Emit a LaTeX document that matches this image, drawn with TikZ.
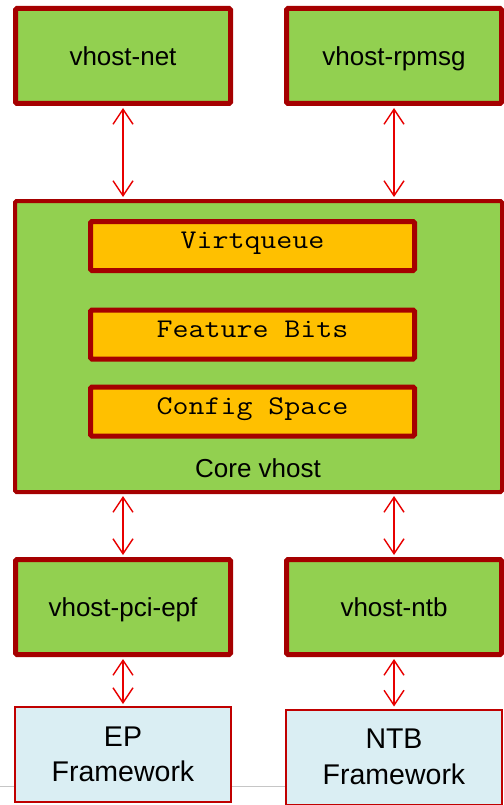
\documentclass[tikz,border=0pt]{standalone}
\usepackage{fontspec}
\setmainfont{Liberation Sans}
\newfontfamily\cmono{Latin Modern Mono}[FakeStretch=1.15]
\usetikzlibrary{arrows.meta}
\definecolor{boxgreen}{RGB}{146,208,80}
\definecolor{boxborder}{RGB}{165,0,0}
\definecolor{arrowred}{RGB}{232,0,0}
\definecolor{boxorange}{RGB}{255,192,0}
\definecolor{boxblue}{RGB}{218,238,243}
\definecolor{fwborder}{RGB}{192,0,0}
\tikzset{
  greenbox/.style={draw=boxborder, fill=boxgreen, line width=5pt, rounded corners=1.5pt,
    minimum width=215pt, minimum height=95pt, inner sep=0pt,
    text height=18.6pt, text depth=0pt,
    font=\fontsize{26}{30}\selectfont},
  corebox/.style={draw=boxborder, fill=boxgreen, line width=4pt, rounded corners=1.5pt,
    minimum width=487pt, minimum height=291pt, inner sep=0pt},
  orangebox/.style={draw=boxborder, fill=boxorange, line width=5pt, rounded corners=1.5pt,
    minimum width=324pt, minimum height=49pt, inner sep=0pt,
    text height=8pt, text depth=2.4pt,
    font=\cmono\fontsize{27}{30}\selectfont},
  fwbox/.style={draw=fwborder, fill=boxblue, line width=2pt,
    minimum width=216pt, minimum height=95pt, inner sep=0pt, align=center,
    font=\fontsize{28.5}{35.5}\selectfont},
  link/.style={draw=arrowred, line width=1.4pt,
    {Straight Barb[length=15pt,width=20pt,line width=1.4pt]}-{Straight Barb[length=15pt,width=20pt,line width=1.4pt]},
    shorten <=2pt, shorten >=2pt},
  corelabel/.style={inner sep=0pt, anchor=base, font=\fontsize{26}{30}\selectfont},
}
\begin{document}
\begin{tikzpicture}[x=1pt, y=-1pt]
\useasboundingbox (0,0) rectangle (503,805);
\draw[gray!45, line width=1pt] (0,786) -- (290,786);
\node[greenbox] (net) at (123,56) {vhost-net};
\node[greenbox] (rpmsg) at (394,56) {vhost-rpmsg};
\node[corebox] (core) at (258.5,346.5) {};
\node[orangebox] (vq) at (252.5,246) {Virtqueue};
\node[orangebox] (fb) at (252.5,334.5) {Feature Bits};
\node[orangebox] (cs) at (252.5,411.5) {Config Space};
\node[corelabel] (corelbl) at (258,477) {Core vhost};
\node[greenbox] (pci) at (123,607) {vhost-pci-epf};
\node[greenbox] (ntb) at (394,607) {vhost-ntb};
\node[fwbox] (ep) at (123,754.5) {EP\\Framework};
\node[fwbox] (ntbfw) at (394,757) {NTB\\Framework};
\draw[link] (net.south) -- (net.south |- core.north);
\draw[link] (rpmsg.south) -- (rpmsg.south |- core.north);
\draw[link] (pci.north |- core.south) -- (pci.north);
\draw[link] (ntb.north |- core.south) -- (ntb.north);
\draw[link] (pci.south) -- (ep.north);
\draw[link] (ntb.south) -- (ntbfw.north);
\end{tikzpicture}
\end{document}
